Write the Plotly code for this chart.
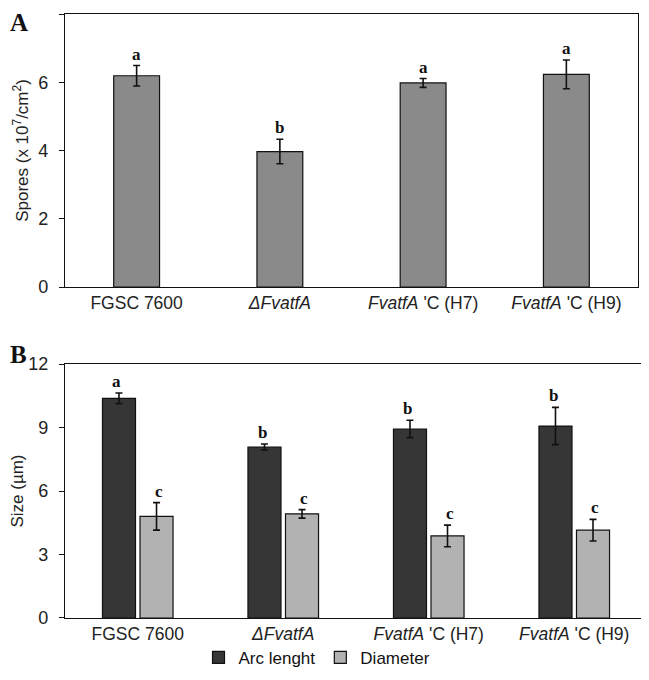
import plotly.graph_objects as go

categories = ["FGSC 7600", "<i>ΔFvatfA</i>", "<i>FvatfA</i> 'C (H7)", "<i>FvatfA</i> 'C (H9)"]

# Panel A: spores
spores = [6.19, 3.97, 5.98, 6.23]
spores_err = [0.30, 0.36, 0.13, 0.42]
spores_letters = ["a", "b", "a", "a"]

# Panel B: size
arc = [10.38, 8.08, 8.93, 9.07]
arc_err = [0.25, 0.14, 0.41, 0.88]
arc_letters = ["a", "b", "b", "b"]
diam = [4.80, 4.92, 3.88, 4.15]
diam_err = [0.65, 0.20, 0.51, 0.51]
diam_letters = ["c", "c", "c", "c"]

ticks_a = [0, 2, 4, 6, 8]
ticks_b = [0, 3, 6, 9, 12]

C_A = "#8a8a8a"
C_ARC = "#363636"
C_DIA = "#b2b2b2"
FONT = "Liberation Sans, Arial, sans-serif"
SERIF = "Liberation Serif, Times New Roman, serif"

fig = go.Figure()

fig.add_trace(go.Bar(
    x=categories, y=spores, marker=dict(color=C_A, line=dict(color="#111", width=1.2)),
    error_y=dict(type="data", array=spores_err, color="#111", thickness=1.6, width=3.5),
    width=0.32, xaxis="x", yaxis="y", showlegend=False))

fig.add_trace(go.Bar(
    x=categories, y=arc, name="Arc lenght",
    marker=dict(color=C_ARC, line=dict(color="#111", width=1.2)),
    error_y=dict(type="data", array=arc_err, color="#111", thickness=1.6, width=3.5),
    xaxis="x2", yaxis="y2", offsetgroup="arc"))
fig.add_trace(go.Bar(
    x=categories, y=diam, name="Diameter",
    marker=dict(color=C_DIA, line=dict(color="#111", width=1.2)),
    error_y=dict(type="data", array=diam_err, color="#111", thickness=1.6, width=3.5),
    xaxis="x2", yaxis="y2", offsetgroup="dia"))

letter_font = dict(family=SERIF, size=17, color="#111", weight="bold")
annotations = []
for c, v, e, t in zip(categories, spores, spores_err, spores_letters):
    annotations.append(dict(x=c, y=v + e, xref="x", yref="y", text=t, showarrow=False,
                            yanchor="bottom", yshift=0, font=letter_font))
for c, v, e, t in zip(categories, arc, arc_err, arc_letters):
    annotations.append(dict(x=c, y=v + e, xref="x2", yref="y2", text=t, showarrow=False,
                            yanchor="bottom", yshift=0, xshift=-21, font=letter_font))
for c, v, e, t in zip(categories, diam, diam_err, diam_letters):
    annotations.append(dict(x=c, y=v + e, xref="x2", yref="y2", text=t, showarrow=False,
                            yanchor="bottom", yshift=0, xshift=21, font=letter_font))

panel_font = dict(family=SERIF, size=25, color="#111", weight="bold")
annotations.append(dict(x=0, y=1, xref="paper", yref="paper", xanchor="left", yanchor="top",
                        text="A", showarrow=False, xshift=-57, yshift=7, font=panel_font))
annotations.append(dict(x=0, y=0.4205, xref="paper", yref="paper", xanchor="left", yanchor="top",
                        text="B", showarrow=False, xshift=-57, yshift=25, font=panel_font))

axis_common = dict(showline=True, linecolor="#111", linewidth=1.3, mirror=True,
                   showgrid=False, zeroline=False)

fig.update_layout(
    width=641, height=672,
    margin=dict(l=57, r=2, t=6, b=62, autoexpand=False),
    paper_bgcolor="white", plot_bgcolor="white",
    font=dict(family=FONT, size=17, color="#222"),
    barmode="group", bargap=0.484, bargroupgap=0.12,
    xaxis=dict(domain=[0, 0.9845], anchor="y", ticks="", tickfont=dict(size=17.5), **axis_common),
    yaxis=dict(domain=[0.548, 1], anchor="x", range=[0, 8], tickvals=ticks_a,
               ticks="outside", ticklen=5, tickcolor="#111", ticklabelstandoff=7,
               tickfont=dict(size=18),
               title=dict(text="Spores (x 10<sup>7</sup>/cm<sup>2</sup>)", standoff=5, font=dict(size=17)),
               **axis_common),
    xaxis2=dict(domain=[0, 1], anchor="y2", ticks="", tickfont=dict(size=17.5), **axis_common),
    yaxis2=dict(domain=[0, 0.4205], anchor="x2", range=[0, 12], tickvals=ticks_b,
                ticks="outside", ticklen=5, tickcolor="#111", ticklabelstandoff=7,
                tickfont=dict(size=18),
                title=dict(text="Size (µm)", standoff=2, font=dict(size=17)),
                **axis_common),
    legend=dict(orientation="h", x=0.433, xanchor="center", y=-0.066, yanchor="middle",
                bgcolor="rgba(0,0,0,0)",
                font=dict(size=17, color="#111"), itemwidth=30, traceorder="normal"),
    annotations=annotations,
)

fig.write_html("out.html")
